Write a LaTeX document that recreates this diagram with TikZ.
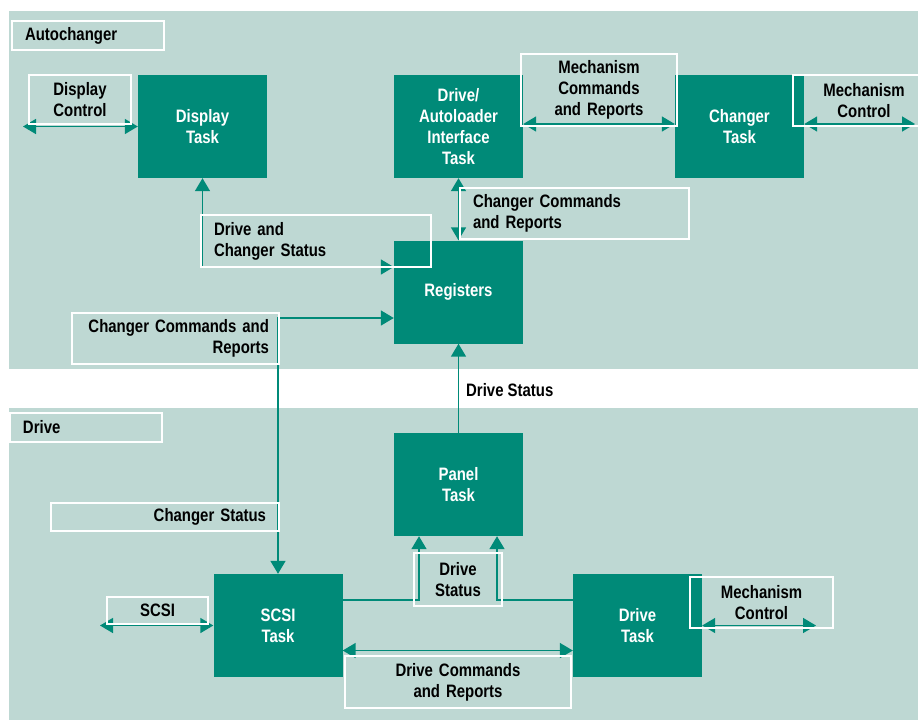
\documentclass[tikz,border=0pt]{standalone}
\usepackage{fontspec}
\setmainfont{Liberation Sans}[FakeStretch=0.83]
\usetikzlibrary{arrows.meta}
\definecolor{hpteal}{RGB}{0,138,120}
\definecolor{hppale}{RGB}{190,216,211}

\begin{document}
\begin{tikzpicture}[x=1pt,y=-1pt,
    font=\bfseries\fontsize{18}{21}\selectfont,
    task/.style={fill=hpteal,text=white,minimum width=129pt,minimum height=103pt,align=center,inner sep=0pt},
    lbl/.style 2 args={draw=white,line width=2.4pt,text width=#1,minimum height=#2,inner xsep=13pt,inner ysep=0pt,text=black},
    flow/.style={draw=hpteal,line width=1.6pt},
    >={Triangle[length=13pt,width=15pt]}]
    \useasboundingbox (0,0) rectangle (918,721);
    \fill[hppale] (9,11) rectangle (918,369);
    \fill[hppale] (9,408) rectangle (918,720);

    \node[task] (disptask) at (202.5,126.5) {Display\\Task};
    \node[task] (ifctask) at (458.5,126.5) {Drive/\\Autoloader\\Interface\\Task};
    \node[task] (chgtask) at (739.5,126.5) {Changer\\Task};
    \node[task] (regs) at (458.5,292) {Registers};
    \node[task] (paneltask) at (458.5,484.5) {Panel\\Task};
    \node[task] (scsitask) at (278,625.5) {SCSI\\Task};
    \node[task] (drivetask) at (637.5,625.5) {Drive\\Task};

    \coordinate (dcend) at (23,126.5);
    \coordinate (mcend) at (915,124);
    \coordinate (scsiend) at (100,625.5);
    \coordinate (mcend2) at (816,625.5);

    \draw [flow,<->] (dcend) to (disptask);
    \draw [flow,<->] ([yshift=2.5pt]ifctask.east) to ([yshift=2.5pt]chgtask.west);
    \draw [flow,<->] ([yshift=2.5pt]chgtask.east) to (mcend);
    \draw [flow,<->] (ifctask) to (regs);
    \draw [flow,<->] ([yshift=25pt]regs.west) -| (disptask);
    \draw [flow,<->] ([yshift=-26pt]regs.west) -| (scsitask);
    \draw [flow,->] (paneltask) to (regs);
    \draw [flow,->] ([yshift=25.5pt]scsitask.east) -| ([xshift=-39.5pt]paneltask.south);
    \draw [flow,->] ([yshift=25.5pt]drivetask.west) -| ([xshift=38.5pt]paneltask.south);
    \draw [flow,<->] (scsiend) to (scsitask);
    \draw [flow,<->] ([yshift=-25pt]scsitask.east) to ([yshift=-25pt]drivetask.west);
    \draw [flow,<->] (drivetask) to (mcend2);

    \node[lbl={126pt}{29pt},align=left] (autochg) at (88,35.5) {Autochanger};
    \node[lbl={126pt}{29pt},align=left] (drivelbl) at (86,427.5) {Drive};
    \node[lbl={76pt}{49pt},align=center] (dispctl) at (80,99.5) {Display\\Control};
    \node[lbl={130pt}{72pt},align=center] (mechcmd) at (599,90) {Mechanism\\Commands\\and Reports};
    \node[lbl={116pt}{51pt},align=center] (mechctl) at (864,100.5) {Mechanism\\Control};
    \node[lbl={204pt}{52pt},align=left] (dcstat) at (316,241) {Drive and\\Changer Status};
    \node[lbl={203pt}{51pt},align=left] (ccrtop) at (574.5,213.5) {Changer Commands\\and Reports};
    \node[lbl={187pt}{51pt},inner xsep=10pt,align=right] (ccrleft) at (175.5,338.5) {Changer Commands and\\Reports};
    \node[anchor=west,inner sep=0pt] (drvstat) at (466,390) {Drive Status};
    \node[lbl={202pt}{28pt},align=right] (chgstat) at (165,517) {Changer Status};
    \node[lbl={62pt}{53pt},align=center] (drvstat2) at (458,579.5) {Drive\\Status};
    \node[lbl={75pt}{27pt},align=center] (scsilbl) at (157.5,610.5) {SCSI};
    \node[lbl={200pt}{52pt},align=center] (drvcmd) at (458,682) {Drive Commands\\and Reports};
    \node[lbl={117pt}{51pt},align=center] (mechctl2) at (761.5,602.5) {Mechanism\\Control};
\end{tikzpicture}
\end{document}
